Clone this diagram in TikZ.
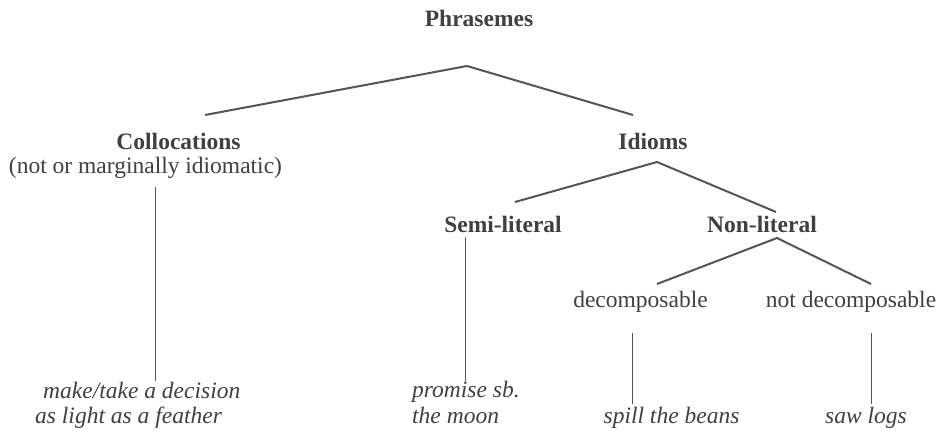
\documentclass[tikz,border=0pt]{standalone}
\usepackage{fontspec}
\setmainfont{Liberation Serif}
\definecolor{txt}{HTML}{404040}
\definecolor{ln}{HTML}{555555}
\begin{document}
\begin{tikzpicture}[x=1pt,y=-1pt,
  lbl/.style={inner sep=0pt, anchor=base, text=txt, font=\fontsize{23.5}{25}\selectfont},
  bld/.style={lbl, font=\fontsize{23.5}{25}\selectfont\bfseries},
  ex/.style={lbl, anchor=base west, font=\fontsize{23.5}{25}\selectfont\itshape},
  branch/.style={draw=ln, line width=2pt},
  stem/.style={draw=ln, line width=1pt}]
\useasboundingbox (0,0) rectangle (945,435);
% labels
\node[bld] (phr) at (479,27) {Phrasemes};
\node[bld] (col) at (178.5,150) {Collocations};
\node[lbl] (colsub) at (145.5,174) {(not or marginally idiomatic)};
\node[bld] (idi) at (653,150) {Idioms};
\node[bld] (semi) at (503,233) {Semi-literal};
\node[bld] (non) at (762,233) {Non-literal};
\node[lbl] (dec) at (640.5,308) {decomposable};
\node[lbl] (ndec) at (851,308) {not decomposable};
\node[ex] (ex1) at (43,399) {make/take a decision};
\node[ex] (ex2) at (35,424) {as light as a feather};
\node[ex] (ex3) at (412,398) {promise sb.};
\node[ex] (ex4) at (412,423) {the moon};
\node[ex, anchor=base] (ex5) at (671.5,423) {spill the beans};
\node[ex, anchor=base] (ex6) at (866,423) {saw logs};
% connector ends
\coordinate (phr-j) at (467,66);
\coordinate (col-t) at (205,115);
\coordinate (idi-t) at (633,115);
\coordinate (idi-j) at (657,162);
\coordinate (semi-t) at (515,202);
\coordinate (non-t) at (776,212);
\coordinate (non-j) at (777,238);
\coordinate (dec-t) at (657,284);
\coordinate (ndec-t) at (871,284);
\coordinate (col-b) at (155,187);
\coordinate (ex1-t) at (155,381);
\coordinate (semi-b) at (465,237);
\coordinate (ex3-t) at (465,381);
\coordinate (dec-b) at (632,333);
\coordinate (ex5-t) at (632,404);
\coordinate (ndec-b) at (871,333);
\coordinate (ex6-t) at (871,404);
% connectors
\draw[branch] (col-t) -- (phr-j) -- (idi-t);
\draw[branch] (semi-t) -- (idi-j) -- (non-t);
\draw[branch] (dec-t) -- (non-j) -- (ndec-t);
\draw[stem] (col-b) -- (ex1-t);
\draw[stem] (semi-b) -- (ex3-t);
\draw[stem] (dec-b) -- (ex5-t);
\draw[stem] (ndec-b) -- (ex6-t);
\end{tikzpicture}
\end{document}
